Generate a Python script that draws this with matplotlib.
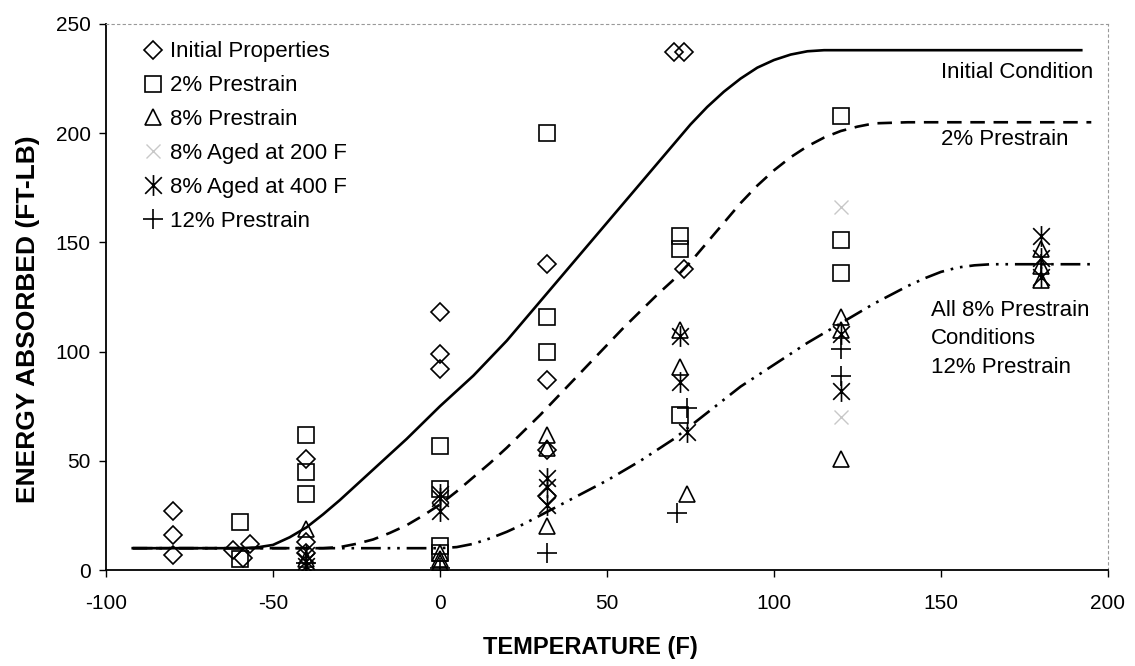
import matplotlib.pyplot as plt
import numpy as np
from matplotlib.path import Path

plt.rcParams['font.family'] = ['Liberation Sans', 'DejaVu Sans']
plt.rcParams['axes.unicode_minus'] = False

# ---- scatter data (temperature F, energy ft-lb) ----
init_t = [-80, -80, -80, -62, -57, -59, -40, -40, -40, 0, 0, 0, 32, 32, 32, 32, 70, 73, 73]
init_e = [27, 16, 7, 9, 12, 5.5, 51, 13, 8, 118, 99, 92, 140, 87, 55, 34, 237, 237, 138]

pre2_t = [-60, -60, -40, -40, -40, 0, 0, 0, 0, 32, 32, 32, 72, 72, 72, 120, 120, 120]
pre2_e = [22, 5, 62, 45, 35, 57, 37, 11, 8, 200, 116, 100, 153, 147, 71, 208, 151, 136]

pre8_t = [-40, -40, 0, 0, 0, 32, 32, 32, 72, 72, 74, 120, 120, 120, 180, 180, 180]
pre8_e = [19, 5, 8, 5, 3, 62, 56, 20, 110, 93, 35, 116, 110, 51, 147, 139, 133]

aged200_t = [120, 120]
aged200_e = [166, 70]

aged400_t = [-40, -40, -40, 0, 0, 0, 32, 32, 32, 72, 72, 74, 120, 120, 180, 180, 180]
aged400_e = [7, 4, 2, 35, 33, 27, 42, 38, 30, 107, 86, 63, 108, 82, 153, 143, 134]

pre12_t = [-40, 0, 32, 71, 74, 120, 120, 180]
pre12_e = [3, 1, 8, 26, 74, 101, 89, 140]

# ---- trend curves ----
curve_init_t = [-92, -60, -55, -50, -45, -40, -35, -30, -25, -20, -15, -10, -5, 0, 5, 10, 15,
                20, 25, 30, 35, 40, 45, 50, 55, 60, 65, 70, 75, 80, 85, 90, 95, 100, 105,
                110, 115, 192]
curve_init_e = [10, 10, 10.3, 11.5, 15, 19.5, 25.5, 32, 39, 46, 53, 60, 67.5, 75, 82, 89, 97,
                105, 114, 123, 132, 141, 150, 159, 168, 177, 186, 195, 204, 212, 219, 225,
                230, 233.5, 236, 237.5, 238, 238]

curve_2_t = [-92, -35, -30, -25, -20, -15, -10, -5, 0, 5, 10, 15, 20, 25, 30, 35, 40, 45,
             50, 55, 60, 65, 70, 75, 80, 85, 90, 95, 100, 105, 110, 115, 120, 125, 130,
             140, 195]
curve_2_e = [10, 10, 10.5, 12, 14, 17, 20.5, 25, 30, 36, 42.5, 49, 56, 63.5, 71, 79, 87, 95,
             103, 111, 118.5, 126, 133, 141, 150, 159, 168, 176, 183, 189, 194, 198, 201,
             203, 204.5, 205, 205]

curve_8_t = [-92, 0, 5, 10, 15, 20, 25, 30, 35, 40, 45, 50, 55, 60, 65, 70, 75, 80, 85, 90,
             95, 100, 105, 110, 115, 120, 125, 130, 135, 140, 145, 150, 155, 160, 165, 195]
curve_8_e = [10, 10, 10.5, 12, 14.5, 17.5, 21, 25, 29, 33, 37, 41, 45.5, 50, 55, 60, 66, 72,
             78, 84, 89, 94, 99, 104, 108.5, 113, 117.5, 122, 126, 130, 133.5, 136.5,
             138.5, 139.5, 140, 140]

xticks = [-100, -50, 0, 50, 100, 150, 200]
yticks = [0, 50, 100, 150, 200, 250]

# asterisk-like marker: vertical bar plus an X
ast = Path([(0, -1), (0, 1), (-0.8, -0.8), (0.8, 0.8), (-0.8, 0.8), (0.8, -0.8)],
           [Path.MOVETO, Path.LINETO, Path.MOVETO, Path.LINETO, Path.MOVETO, Path.LINETO])

fig = plt.figure(figsize=(11.35, 6.66), dpi=100)
ax = fig.add_axes([0.0934, 0.1441, 0.8828, 0.8199])

ax.plot(curve_init_t, curve_init_e, color='black', lw=1.9, solid_joinstyle='round')
ax.plot(curve_2_t, curve_2_e, color='black', lw=1.9, dashes=(5.5, 3.3))
ax.plot(curve_8_t, curve_8_e, color='black', lw=1.9, dashes=(7.5, 2.6, 1, 2.6, 1, 2.6))

mk = dict(linestyle='none', markerfacecolor='none', markeredgewidth=1.2)
h1, = ax.plot(init_t, init_e, marker='D', ms=9, color='black', **mk)
h2, = ax.plot(pre2_t, pre2_e, marker='s', ms=12, color='black', **mk)
h3, = ax.plot(pre8_t, pre8_e, marker='^', ms=12, color='black', **mk)
h4, = ax.plot(aged200_t, aged200_e, marker='x', ms=10, color='#c8c8c8', linestyle='none',
              markeredgewidth=1.0)
h5, = ax.plot(aged400_t, aged400_e, marker=ast, ms=15, color='black', **mk)
h6, = ax.plot(pre12_t, pre12_e, marker='+', ms=14, color='black', **mk)

ax.text(150, 228, 'Initial Condition', fontsize=16, va='center', ha='left')
ax.text(150, 197, '2% Prestrain', fontsize=16, va='center', ha='left')
ax.text(147, 123.5, 'All 8% Prestrain\nConditions\n12% Prestrain', fontsize=16,
        va='top', ha='left', linespacing=1.45)

leg = ax.legend([h1, h2, h3, h4, h5, h6],
                ['Initial Properties', '2% Prestrain', '8% Prestrain', '8% Aged at 200 F',
                 '8% Aged at 400 F', '12% Prestrain'],
                loc='upper left', bbox_to_anchor=(0.037, 0.968), frameon=False,
                fontsize=16, handlelength=0.9, handletextpad=0.3, labelspacing=0.58,
                borderpad=0, borderaxespad=0, numpoints=1)

ax.set_xlim(-100, 200)
ax.set_ylim(0, 250)
ax.set_xticks(xticks)
ax.set_yticks(yticks)
ax.tick_params(direction='out', length=5, width=1, labelsize=15, pad=12)
ax.tick_params(axis='y', pad=6)

for s in ['left', 'bottom']:
    ax.spines[s].set_linewidth(1.3)
for s in ['top', 'right']:
    ax.spines[s].set_color('#999999')
    ax.spines[s].set_linestyle((0, (2, 3)))
    ax.spines[s].set_linewidth(0.8)

ax.set_xlabel('TEMPERATURE (F)', fontsize=17, fontweight='bold')
ax.set_ylabel('ENERGY ABSORBED (FT-LB)', fontsize=19, fontweight='bold')
ax.xaxis.set_label_coords(0.483, -0.12)
ax.yaxis.set_label_coords(-0.066, 0.46)

fig.savefig('out.png', dpi=100)
